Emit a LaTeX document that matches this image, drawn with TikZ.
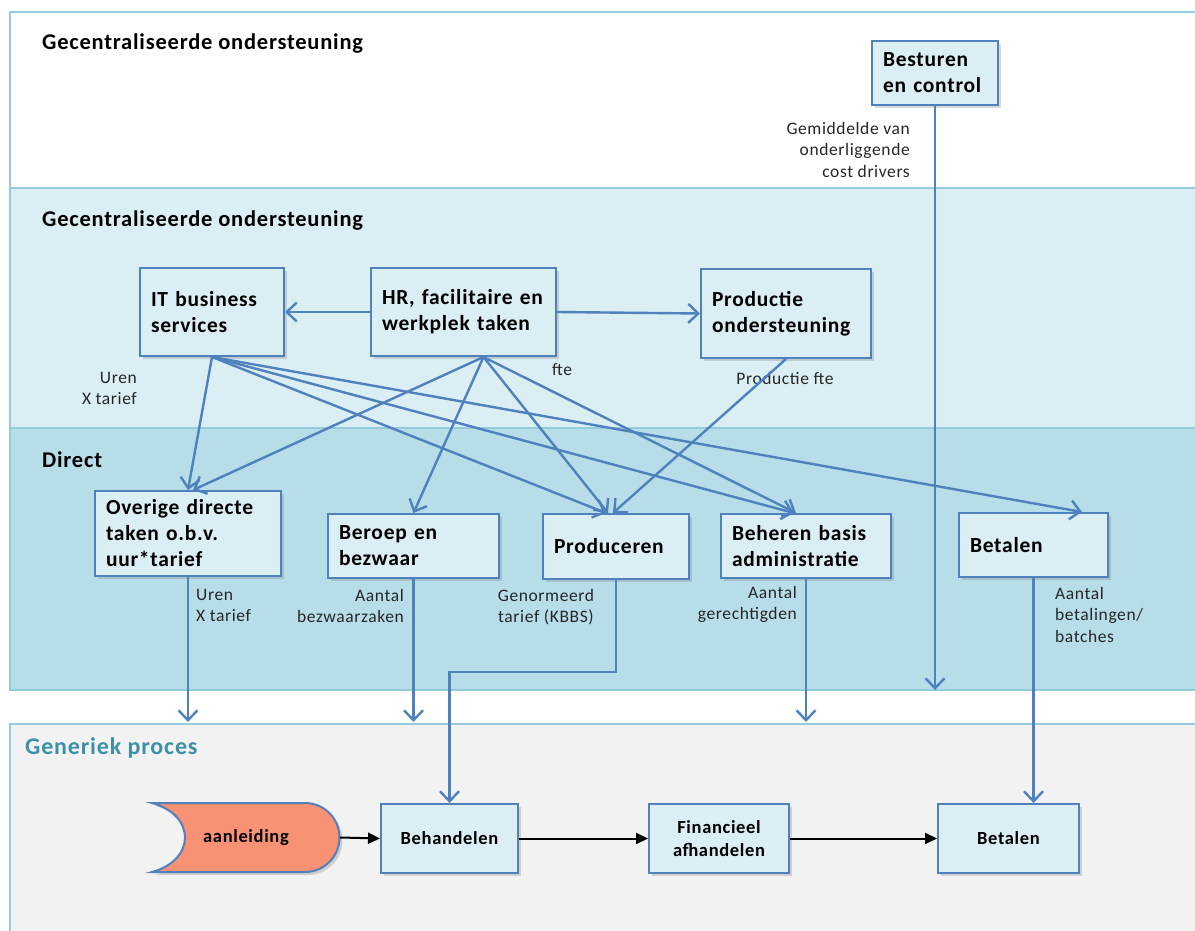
\documentclass[tikz,border=0pt]{standalone}
\usepackage{fontspec}
\setmainfont{Carlito}
\newfontfamily\ruim[LetterSpace=3.5]{Carlito}
\usetikzlibrary{arrows.meta,shadows}

\definecolor{lijnblauw}{RGB}{79,129,189}
\definecolor{taakvul}{RGB}{219,238,244}
\definecolor{bandrand}{RGB}{147,205,221}
\definecolor{bandlicht}{RGB}{218,238,243}
\definecolor{banddirect}{RGB}{183,221,232}
\definecolor{bandgrijs}{RGB}{242,242,242}
\definecolor{zalm}{RGB}{249,146,116}
\definecolor{procesteal}{RGB}{60,145,168}

\newcommand\taakfont{\ruim\bfseries\fontsize{21.5}{26}\selectfont}
\newcommand\etiketfont{\ruim\fontsize{17.5}{21.5}\selectfont}
\newcommand\stapfont{\ruim\bfseries\fontsize{18.5}{23}\selectfont}
\newcommand\titelfont{\ruim\bfseries\fontsize{22.5}{26}\selectfont}

\tikzset{
  band/.style={fill=#1, draw=bandrand, line width=1.8pt},
  taak/.style={draw=lijnblauw, fill=taakvul, line width=2pt, anchor=north west,
    align=left, inner xsep=11pt, inner ysep=3pt, font=\taakfont,
    drop shadow={shadow xshift=3pt, shadow yshift=-3pt, opacity=0.3}},
  stap/.style={draw=lijnblauw, fill=taakvul, line width=2pt, anchor=north west,
    align=center, inner sep=2pt, minimum height=69pt, font=\stapfont,
    drop shadow={shadow xshift=3pt, shadow yshift=-3pt, opacity=0.3}},
  etiket/.style={font=\etiketfont, inner sep=0pt, text=black!85},
  titel/.style={font=\titelfont, anchor=west, inner sep=0pt},
  verbind/.style={draw=lijnblauw, line width=2.4pt, -{Straight Barb[length=10pt,width=19pt]}},
  stroom/.style={draw=black, line width=2pt, -{Triangle[length=12pt,width=11pt]}},
}

\begin{document}
\begin{tikzpicture}[x=1pt,y=1pt,yscale=-1,xscale=1]
\useasboundingbox (0,0) rectangle (1195,931);
\clip (0,0) rectangle (1195,931);

% banden
\draw[band=bandgrijs] (10,724) rectangle (1210,950);
\draw[band=banddirect] (10,428) rectangle (1210,690);
\draw[band=bandlicht] (10,188) rectangle (1210,428);
\draw[band=white] (10,12) rectangle (1210,188);

\node[titel] (titel1) at (42,44) {Gecentraliseerde ondersteuning};
\node[titel] (titel2) at (42,221) {Gecentraliseerde ondersteuning};
\node[titel] (titel3) at (42,460) {Direct};
\node[titel, font=\ruim\bfseries\fontsize{24}{28}\selectfont, text=procesteal] (titel4) at (25,748) {Generiek proces};

\coordinate (directbodem) at (0,690);
\coordinate (procestop) at (0,722);

% taken
\node[taak, text width=104pt, minimum height=64pt] (besturen) at (871,40) {Besturen\\en control};
\node[taak, text width=122pt, minimum height=88pt] (it) at (139,267) {IT business\\services};
\node[taak, text width=163pt, minimum height=88pt] (hr) at (370,267) {HR, facilitaire en\\werkplek taken};
\node[taak, text width=148pt, minimum height=89pt] (prodond) at (700,268) {Productie\\ondersteuning};
\node[taak, text width=164pt, minimum height=85pt] (overig) at (94,490) {Overige directe\\taken o.b.v.\\uur*tarief};
\node[taak, text width=149pt, minimum height=64pt] (beroep) at (327,513) {Beroep en\\bezwaar};
\node[taak, text width=124pt, minimum height=65pt] (produceer) at (542,513) {Produceren};
\node[taak, text width=148pt, minimum height=64pt] (beheer) at (720,513) {Beheren basis\\administratie};
\node[taak, text width=127pt, minimum height=64pt] (betaal) at (958,512) {Betalen};

% generiek proces
\draw[fill=zalm, draw=lijnblauw, line width=2pt, drop shadow={shadow xshift=3pt, shadow yshift=-3pt, opacity=0.3}]
  (152,803) -- (305,803) arc[start angle=-90, end angle=90, radius=34.5] -- (152,872)
  .. controls (196,860) and (196,815) .. (152,803) -- cycle;
\node[font=\stapfont, minimum width=188pt, minimum height=69pt, inner sep=0pt] (aanl) at (246,837.5) {aanleiding};
\node[stap, minimum width=137pt] (behandel) at (380,803) {Behandelen};
\node[stap, minimum width=140pt] (financ) at (648,803) {Financieel\\afhandelen};
\node[stap, minimum width=141pt] (betaalp) at (937,803) {Betalen};

% etiketten
\node[etiket, anchor=north east, align=right] (lgem) at (910,122) {Gemiddelde van\\onderliggende\\cost drivers};
\node[etiket] (lfte) at (562,370) {fte};
\node[etiket] (lprodfte) at (785,378) {Productie fte};
\node[etiket, anchor=north east, align=right] (luren1) at (137,372) {Uren\\X tarief};
\node[etiket, anchor=north west, align=left] (luren2) at (196,589) {Uren\\X tarief};
\node[etiket, anchor=north east, align=right] (lbezw) at (404,589) {Aantal\\bezwaarzaken};
\node[etiket, anchor=north, align=center] (lnorm) at (546,589) {Genormeerd\\tarief (KBBS)};
\node[etiket, anchor=north east, align=right] (lgerecht) at (797,586) {Aantal\\gerechtigden};
\node[etiket, anchor=north west, align=left] (lbetaal) at (1055,587) {Aantal\\betalingen/\\batches};

% verbindingen binnen ondersteuning
\draw[verbind] (hr.west) -- (it.east);
\draw[verbind] (hr.east) -- (prodond.west);

% IT naar direct
\draw[verbind] (it.south) -- (overig.north);
\draw[verbind] (it.south) -- ([xshift=-10pt]produceer.north);
\draw[verbind] (it.south) -- ([xshift=-12pt]beheer.north);
\draw[verbind] (it.south) -- ([xshift=-27pt]betaal.north east);

% HR naar direct
\draw[verbind] ([xshift=20pt]hr.south) -- ([xshift=5pt]overig.north);
\draw[verbind] ([xshift=20pt]hr.south) -- (beroep.north);
\draw[verbind] ([xshift=20pt]hr.south) -- ([xshift=-8pt]produceer.north);
\draw[verbind] ([xshift=20pt]hr.south) -- ([xshift=-10pt]beheer.north);
\draw[verbind] (prodond.south) -- ([xshift=-3pt]produceer.north);

% naar generiek proces
\draw[verbind] (besturen.south) -- (besturen.south |- directbodem);
\draw[verbind] (overig.south) -- (overig.south |- procestop);
\draw[verbind] (beroep.south) -- (beroep.south |- procestop);
\draw[verbind] (beheer.south) -- (beheer.south |- procestop);
\draw[verbind] (produceer.south) -- ++(0,92) -| (behandel.north);
\draw[verbind] (betaal.south) -- (betaal.south |- betaalp.north);

% processtroom
\draw[stroom] (aanl.east) -- (behandel.west);
\draw[stroom] (behandel.east) -- (financ.west);
\draw[stroom] (financ.east) -- (betaalp.west);

\end{tikzpicture}
\end{document}
